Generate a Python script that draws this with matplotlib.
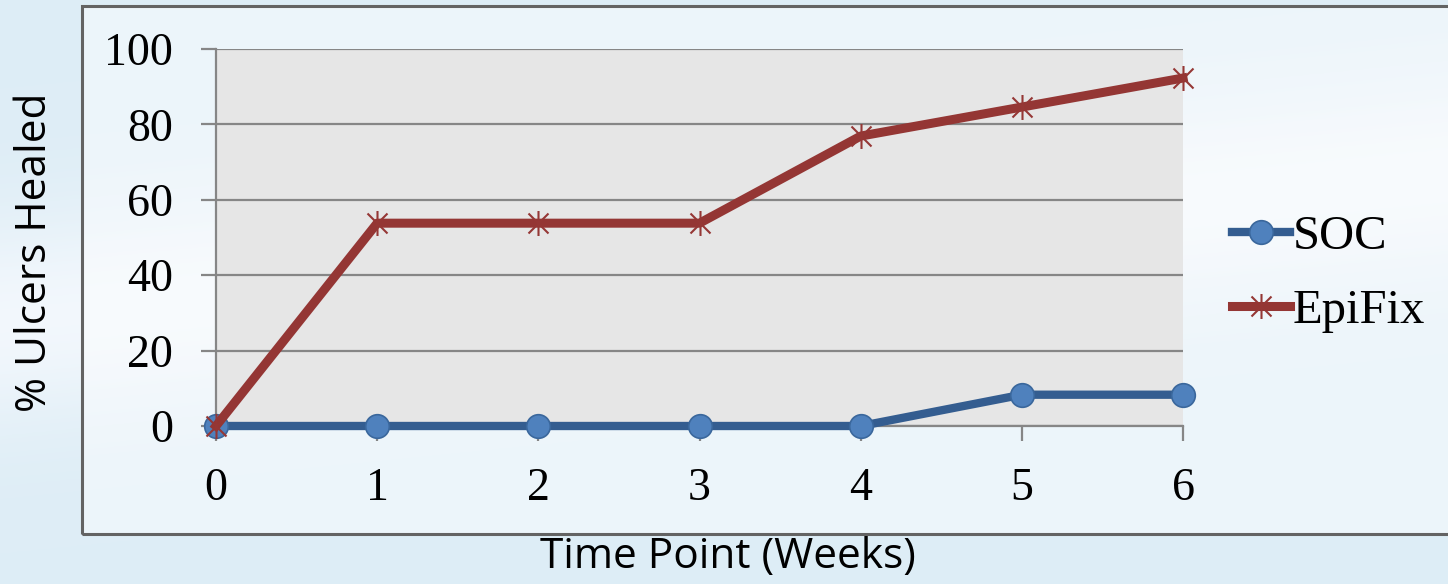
import numpy as np
import matplotlib.pyplot as plt
from matplotlib.path import Path
from matplotlib.patches import Rectangle

weeks = [0, 1, 2, 3, 4, 5, 6]
soc = [0, 0, 0, 0, 0, 8.3, 8.3]
epifix = [0, 53.8, 53.8, 53.8, 76.9, 84.6, 92.3]
y_ticks = [0, 20, 40, 60, 80, 100]

serif = ['Liberation Serif', 'DejaVu Serif']
sans = ['Open Sans', 'DejaVu Sans']

# excel-style star marker: an X with a vertical bar
star = Path([(-1, -1), (1, 1), (-1, 1), (1, -1), (0, -1.25), (0, 1.25)],
            [Path.MOVETO, Path.LINETO, Path.MOVETO, Path.LINETO, Path.MOVETO, Path.LINETO])

fig = plt.figure(figsize=(14.48, 5.84), dpi=100)

# slide background: soft blue gradient with a pale band
bg = fig.add_axes([0, 0, 1, 1], zorder=-2)
yy, xx = np.mgrid[0:1:300j, 0:1:700j]
band = np.exp(-((yy - 0.45 - 0.25 * xx) / 0.18) ** 2)
base = np.array([0.87, 0.93, 0.965])
white = np.array([0.95, 0.97, 0.99])
img = base[None, None, :] * (1 - band[..., None]) + white[None, None, :] * band[..., None]
bg.imshow(img, extent=[0, 1, 0, 1], aspect='auto')
bg.set_xlim(0, 1)
bg.set_ylim(1, 0)
bg.axis('off')

# chart box
fig.patches.append(Rectangle((82 / 1448, 1 - 534 / 584), 1.0, 528 / 584,
                             transform=fig.transFigure, facecolor='white', alpha=0.45,
                             edgecolor='none', zorder=-1))
fig.patches.append(Rectangle((82 / 1448, 1 - 534 / 584), 1.0, 528 / 584,
                             transform=fig.transFigure, facecolor='none',
                             edgecolor='#636363', linewidth=2.2, zorder=-1))

ax = fig.add_axes([216 / 1448, 1 - 426 / 584, 967 / 1448, 377 / 584])
ax.set_facecolor('#e6e6e6')

ax.plot(weeks, soc, color='#345d90', linewidth=6, marker='o', markersize=17,
        markerfacecolor='#4f81bd', markeredgecolor='#3a679c', markeredgewidth=1.2,
        label='SOC', clip_on=False, zorder=3)
ax.plot(weeks, epifix, color='#943634', linewidth=6.5, marker=star, markersize=18,
        markerfacecolor='none', markeredgecolor='#953735', markeredgewidth=1.5,
        label='EpiFix', clip_on=False, zorder=4)

ax.set_xlim(0, 6)
ax.set_ylim(0, 100)
ax.set_xticks(weeks)
ax.set_yticks(y_ticks)
ax.grid(True, axis='y', color='#868686', linewidth=1.6)
ax.set_axisbelow(True)
for side in ['top', 'right']:
    ax.spines[side].set_visible(False)
for side in ['left', 'bottom']:
    ax.spines[side].set_color('#868686')
    ax.spines[side].set_linewidth(1.6)
ax.tick_params(axis='both', length=11, width=1.6, color='#868686', labelsize=33)
ax.tick_params(axis='y', pad=20)
ax.tick_params(axis='x', pad=19)
for lbl in ax.get_xticklabels() + ax.get_yticklabels():
    lbl.set_family(serif)

leg = ax.legend(loc='center left', bbox_to_anchor=(1232 / 1448, 1 - 274 / 584),
                bbox_transform=fig.transFigure, frameon=False,
                prop={'family': serif, 'size': 35}, handlelength=1.2,
                handletextpad=0.05, labelspacing=0.62, borderaxespad=0, borderpad=0)

fig.text(35 / 1448, 1 - 252 / 584, '% Ulcers Healed', rotation=90, ha='center', va='center',
         fontsize=30.5, family=sans)
fig.text(728 / 1448, 1 - 557 / 584, 'Time Point (Weeks)', ha='center', va='center',
         fontsize=30.5, family=sans)

fig.savefig('out.png', dpi=100)
